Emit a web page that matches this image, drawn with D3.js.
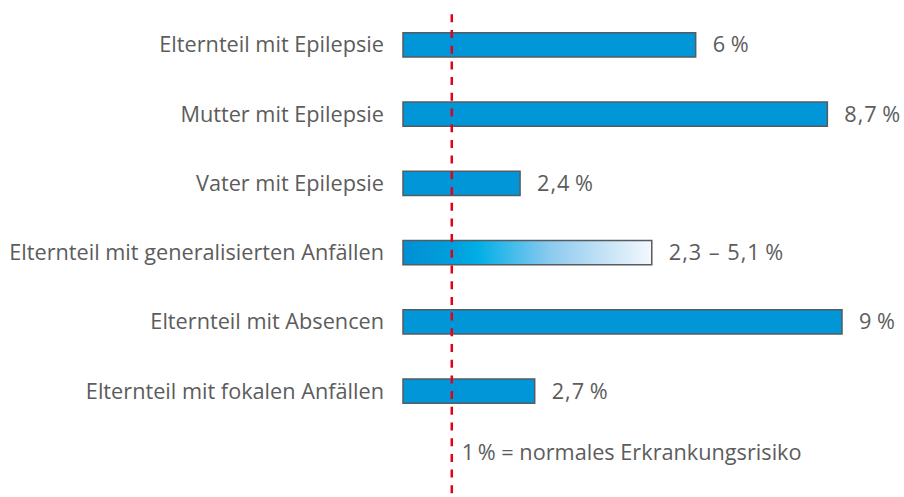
<!DOCTYPE html>
<html><head><meta charset="utf-8">
<script src="https://cdn.jsdelivr.net/npm/d3@7"></script>
<style>body{margin:0;background:#fff}svg{display:block}</style>
</head><body>
<svg id="c" width="904" height="497"></svg>
<script>
const categories = ["Elternteil mit Epilepsie","Mutter mit Epilepsie","Vater mit Epilepsie","Elternteil mit generalisierten Anfällen","Elternteil mit Absencen","Elternteil mit fokalen Anfällen"];
const values = [6, 8.7, 2.4, 5.1, 9, 2.7];
const lowValues = [null, null, null, 2.3, null, null];
const valueLabels = ["6\u2009%","8,7\u2009%","2,4\u2009%","2,3 \u2013 5,1\u2009%","9\u2009%","2,7\u2009%"];
const gradientRow = [false,false,false,true,false,false];
const referenceValue = 1;
const referenceLabel = "1\u2009% = normales Erkrankungsrisiko";

const svg = d3.select("#c");
const x = d3.scaleLinear().domain([0, 9]).range([403, 842]);
const y = d3.scaleBand().domain(categories).range([12, 424]).paddingInner(0.65).paddingOuter(0.3);

const defs = svg.append("defs");
const g = defs.append("linearGradient").attr("id","grad").attr("x1","0").attr("x2","1").attr("y1","0").attr("y2","0");
g.append("stop").attr("offset","0%").attr("stop-color","#0090d4");
g.append("stop").attr("offset","20%").attr("stop-color","#009fdc");
g.append("stop").attr("offset","30%").attr("stop-color","#00aee6");
g.append("stop").attr("offset","60%").attr("stop-color","#8fcbef");
g.append("stop").attr("offset","100%").attr("stop-color","#f4f8fd");

const font = "'Open Sans', sans-serif";
const fs = 21.7;
const col = "#5c5c5c";
const rows = categories.map((c,i)=>({c, v: values[i], lab: valueLabels[i], grad: gradientRow[i]}));

svg.selectAll("rect.bar").data(rows).join("rect")
  .attr("class","bar")
  .attr("x", x(0))
  .attr("y", d => y(d.c))
  .attr("width", d => x(d.v) - x(0))
  .attr("height", y.bandwidth())
  .attr("fill", d => d.grad ? "url(#grad)" : "#0096d7")
  .attr("stroke", "#555b60")
  .attr("stroke-width", 1.5);

svg.selectAll("text.cat").data(rows).join("text")
  .attr("class","cat")
  .attr("x", 384)
  .attr("y", d => y(d.c) + y.bandwidth()/2)
  .attr("dy", "0.35em")
  .attr("text-anchor","end")
  .attr("font-family", font)
  .attr("font-size", fs)
  .attr("fill", col)
  .text(d => d.c);

svg.selectAll("text.val").data(rows).join("text")
  .attr("class","val")
  .attr("x", d => x(d.v) + 17)
  .attr("y", d => y(d.c) + y.bandwidth()/2)
  .attr("dy", "0.35em")
  .attr("font-family", font)
  .attr("font-size", fs)
  .attr("letter-spacing", 1.0)
  .attr("fill", col)
  .text(d => d.lab);

svg.append("line")
  .attr("x1", x(referenceValue)).attr("x2", x(referenceValue))
  .attr("y1", 14.3).attr("y2", 497)
  .attr("stroke", "#e2001a")
  .attr("stroke-width", 2.5)
  .attr("stroke-dasharray", "8,7.7");

svg.append("text")
  .attr("x", x(referenceValue) + 10)
  .attr("y", 460)
  .attr("font-family", font)
  .attr("font-size", fs)
  .attr("fill", col)
  .text(referenceLabel);
</script>
</body></html>
